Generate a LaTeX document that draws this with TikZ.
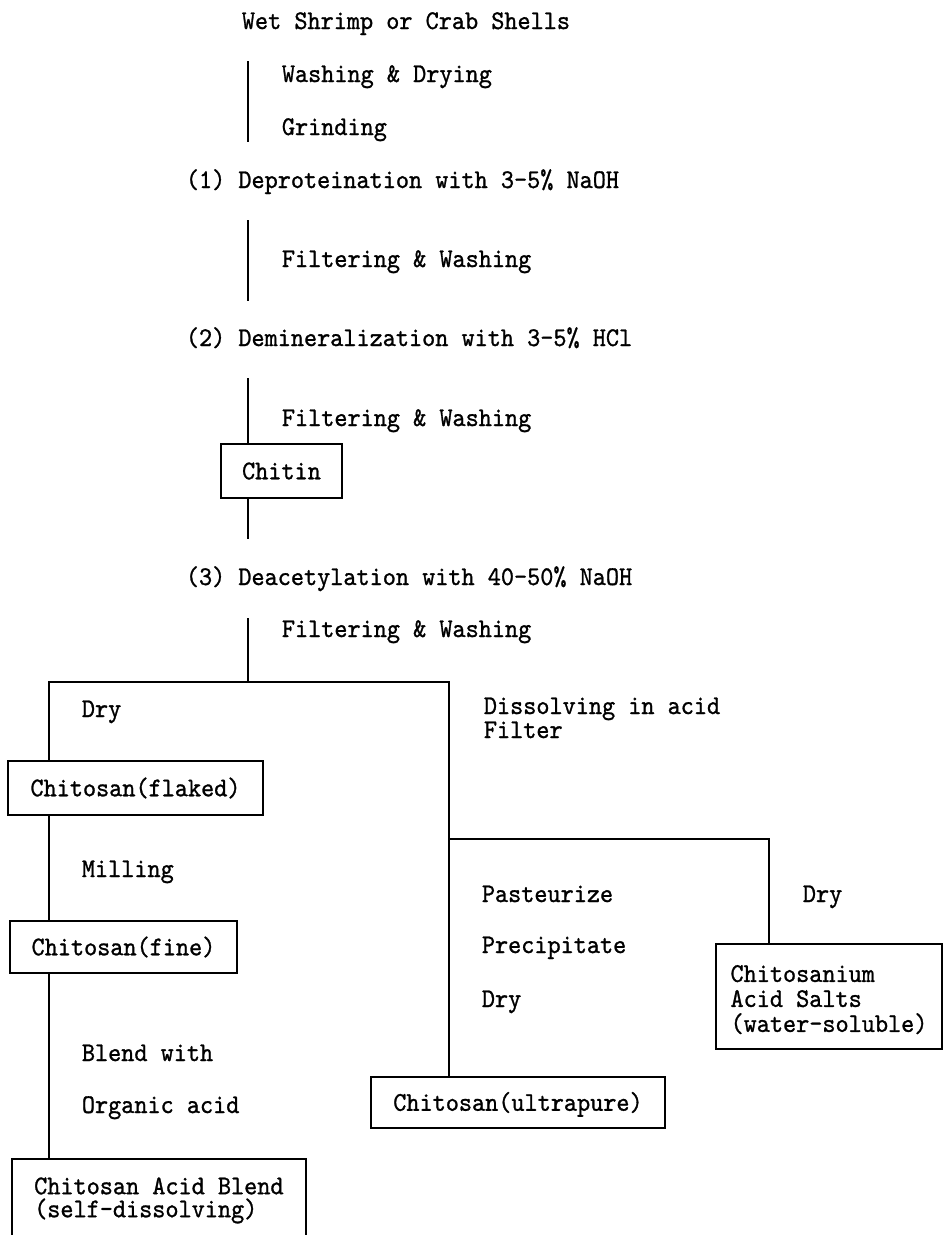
\documentclass[tikz,border=0pt]{standalone}
\usepackage{fontspec}
\setmonofont{lmmono10-regular.otf}[FakeBold=1.0,FakeStretch=0.926]
\begin{document}
\begin{tikzpicture}[x=1pt,y=-1pt,line width=1.8pt,
  every node/.style={font=\ttfamily\fontsize{27}{25}\selectfont,inner sep=0pt},
  lbl/.style={anchor=base west},
  onebox/.style={draw,text height=16.5pt,text depth=0pt},
  multibox/.style={draw,align=left}]
\useasboundingbox (0,0) rectangle (948,1235);
% text labels
\node[lbl] (src) at (241,29) {Wet Shrimp or Crab Shells};
\node[lbl] (wash) at (281,82) {Washing \& Drying};
\node[lbl] (grind) at (281,135) {Grinding};
\node[lbl] (s1) at (185,188) {(1) Deproteination with 3-5\% NaOH};
\node[lbl] (fw1) at (281,267) {Filtering \& Washing};
\node[lbl] (s2) at (185,346) {(2) Demineralization with 3-5\% HCl};
\node[lbl] (fw2) at (281,426) {Filtering \& Washing};
\node[lbl] (s3) at (185,585) {(3) Deacetylation with 40-50\% NaOH};
\node[lbl] (fw3) at (281,637) {Filtering \& Washing};
\node[lbl] (dry1) at (81,717) {Dry};
\node[lbl] (diss) at (483,714) {Dissolving in acid};
\node[lbl] (filt) at (483,738) {Filter};
\node[lbl] (mill) at (81,877) {Milling};
\node[lbl] (past) at (481,902) {Pasteurize};
\node[lbl] (prec) at (481,953) {Precipitate};
\node[lbl] (dry2) at (481,1007) {Dry};
\node[lbl] (dry3) at (802,902) {Dry};
\node[lbl] (blw) at (81,1061) {Blend with};
\node[lbl] (orga) at (81,1113) {Organic acid};
% boxes
\node[onebox,minimum width=121pt,minimum height=54pt] (chitin) at (281.5,471) {Chitin};
\node[onebox,minimum width=255pt,minimum height=54pt] (flaked) at (135.5,788) {Chitosan(flaked)};
\node[onebox,minimum width=227pt,minimum height=52pt] (fine) at (123.5,947) {Chitosan(fine)};
\node[onebox,minimum width=294pt,minimum height=51pt] (ultra) at (518,1102.5) {Chitosan(ultrapure)};
\node[multibox,minimum width=226pt,minimum height=105pt,font=\ttfamily\fontsize{27}{25}\selectfont] (salts) at (829,996.5)
  {\rule{0pt}{23pt}Chitosanium\\Acid Salts\\(water-soluble)};
\node[multibox,minimum width=294pt,inner ysep=18.5pt,anchor=north west,font=\ttfamily\fontsize{27}{23}\selectfont] (blend) at (11,1158)
  {Chitosan Acid Blend\\(self-dissolving)};
% connector coordinates
\coordinate (t1) at (248,61);
\coordinate (t2) at (248,142);
\coordinate (t3) at (248,220);
\coordinate (t4) at (248,301);
\coordinate (t5) at (248,378);
\coordinate (t6) at (248,539);
\coordinate (t7) at (248,618);
\coordinate (split) at (248,682);
\coordinate (jl) at (49,682);
\coordinate (jr) at (449,682);
\coordinate (k) at (449,839);
\coordinate (k2) at (769,839);
% connectors
\draw (t1) -- (t2);
\draw (t3) -- (t4);
\draw (t5) -- (t5 |- chitin.north);
\draw (chitin.south -| t6) -- (t6);
\draw (t7) -- (split);
\draw (jl |- flaked.north) -- (jl) -- (jr) -- (jr |- ultra.north);
\draw (flaked.south -| jl) -- (fine.north -| jl);
\draw (fine.south -| jl) -- (blend.north -| jl);
\draw (k) -- (k2) -- (k2 |- salts.north);
\end{tikzpicture}
\end{document}
